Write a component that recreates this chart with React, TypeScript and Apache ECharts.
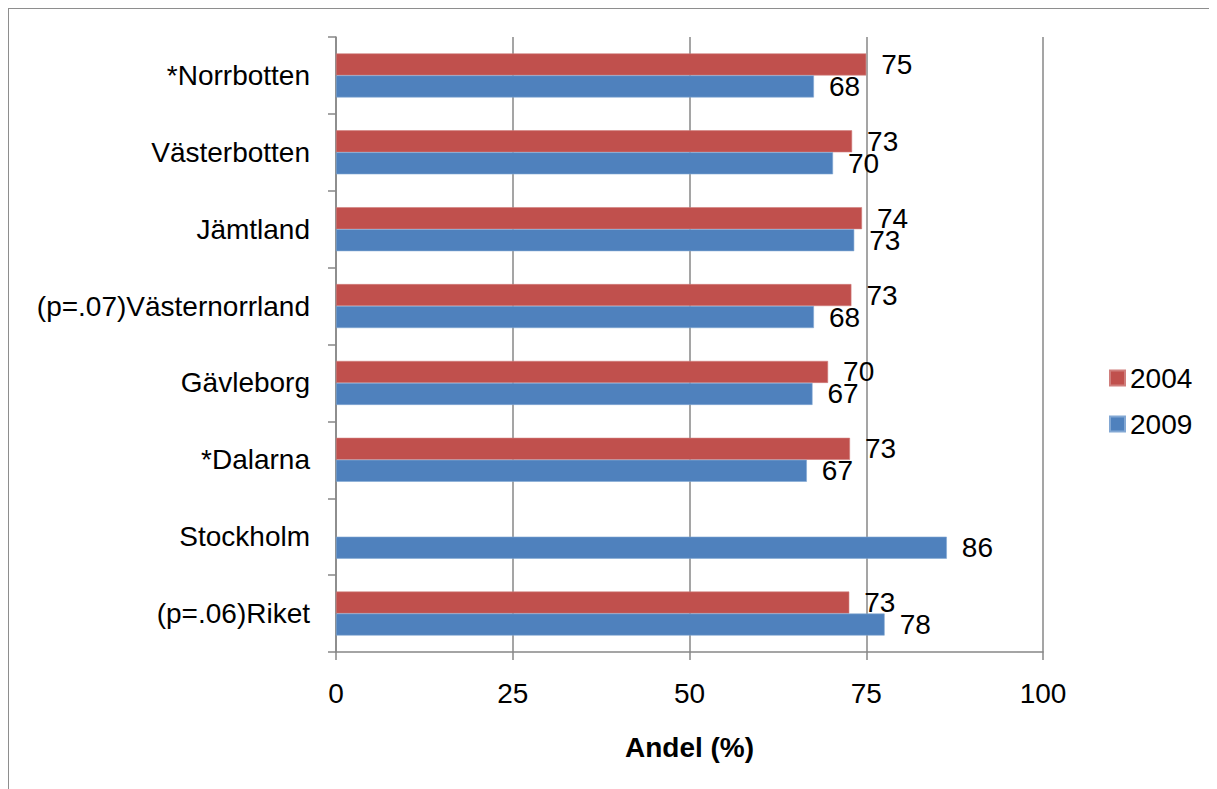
import React, { useEffect, useRef } from "react";
import * as echarts from "echarts";

const categories = [
  "*Norrbotten",
  "Västerbotten",
  "Jämtland",
  "(p=.07)Västernorrland",
  "Gävleborg",
  "*Dalarna",
  "Stockholm",
  "(p=.06)Riket",
];
const values2004: (number | null)[] = [75.0, 73.0, 74.4, 72.9, 69.6, 72.7, null, 72.6];
const values2009: number[] = [67.6, 70.3, 73.3, 67.6, 67.4, 66.6, 86.4, 77.6];
const seriesNames = ["2004", "2009"];
const xTicks = { min: 0, max: 100, interval: 25 };
const axisTitle = "Andel (%)";

const FONT = "'Liberation Sans', Arial, sans-serif";
const GRAY = "#878787";
const FS = 28;

export default function App() {
  const ref = useRef<HTMLDivElement>(null);
  useEffect(() => {
    if (!ref.current) return;
    const chart = echarts.init(ref.current, null, { renderer: "svg" });
    const labelCfg = {
      show: true,
      position: "right" as const,
      distance: 15,
      color: "#000",
      fontSize: FS,
      fontFamily: FONT,
      formatter: (p: any) => String(Math.round(p.value)),
    };
    chart.setOption({
      animation: false,
      textStyle: { fontFamily: FONT },
      grid: { left: 327, top: 28, width: 707, height: 615, containLabel: false },
      legend: {
        orient: "vertical",
        left: 1095,
        top: 350,
        itemWidth: 15,
        itemHeight: 15,
        itemGap: 18,
        icon: "rect",
        textStyle: { fontSize: FS, color: "#000", fontFamily: FONT },
        data: seriesNames,
      },
      xAxis: {
        type: "value",
        min: xTicks.min,
        max: xTicks.max,
        interval: xTicks.interval,
        name: axisTitle,
        nameLocation: "middle",
        nameGap: 81,
        nameTextStyle: { fontSize: FS, fontWeight: "bold", color: "#000", fontFamily: FONT },
        axisLine: { show: true, lineStyle: { color: GRAY, width: 1.5 } },
        axisTick: { show: true, length: 8, lineStyle: { color: GRAY, width: 1.5 } },
        axisLabel: { fontSize: FS, color: "#000", margin: 27, fontFamily: FONT },
        splitLine: { show: true, lineStyle: { color: GRAY, width: 1.5 } },
      },
      yAxis: {
        type: "category",
        inverse: true,
        data: categories,
        axisLine: { show: true, lineStyle: { color: GRAY, width: 1.5 } },
        axisTick: { show: true, length: 8, alignWithLabel: false, lineStyle: { color: GRAY, width: 1.5 } },
        axisLabel: { fontSize: FS, color: "#000", margin: 26, fontFamily: FONT },
        splitLine: { show: false },
      },
      series: [
        {
          name: seriesNames[0],
          type: "bar",
          data: values2004,
          barWidth: 22,
          barGap: "0%",
          itemStyle: { color: "#C0504D", borderColor: "#D07E7C", borderWidth: 0.6 },
          label: labelCfg,
        },
        {
          name: seriesNames[1],
          type: "bar",
          data: values2009,
          barWidth: 22,
          barGap: "0%",
          itemStyle: { color: "#4F81BD", borderColor: "#82A7D3", borderWidth: 0.6 },
          label: labelCfg,
        },
      ],
    });
    return () => chart.dispose();
  }, []);
  return (
    <div
      style={{
        width: 1209,
        height: 781,
        borderLeft: "1px solid #8e8e8e",
        borderTop: "1px solid #8e8e8e",
        boxSizing: "border-box",
      }}
    >
      <div ref={ref} style={{ width: 1208, height: 780 }} />
    </div>
  );
}
